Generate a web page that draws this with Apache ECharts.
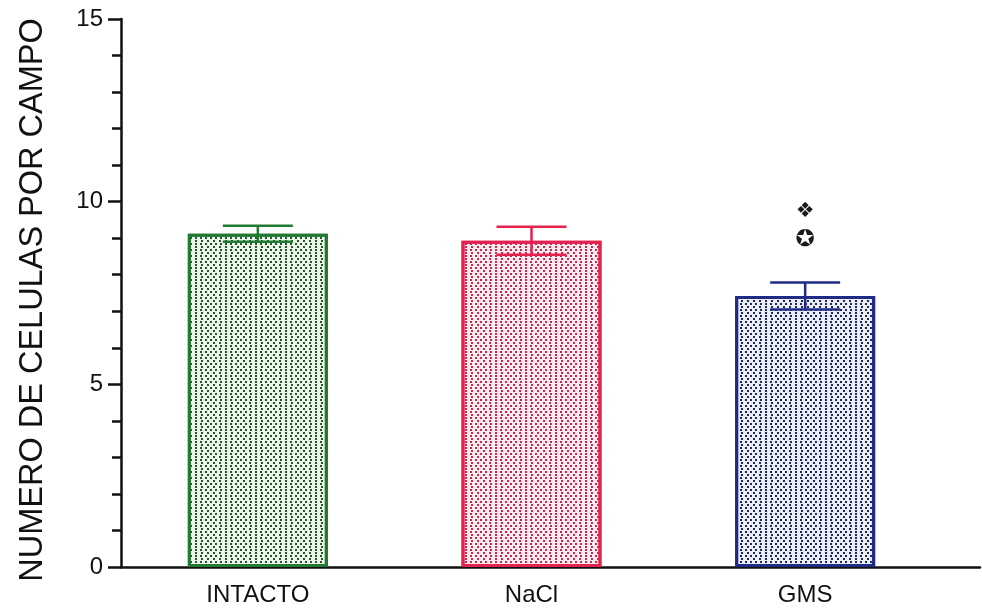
<!DOCTYPE html>
<html>
<head>
<meta charset="utf-8">
<script src="https://cdn.jsdelivr.net/npm/echarts@6/dist/echarts.min.js"></script>
<style>
html,body{margin:0;padding:0;background:#fff;}
#c{width:982px;height:612px;}
</style>
</head>
<body>
<div id="c"></div>
<script>
const categories = ['INTACTO', 'NaCl', 'GMS'];
const means = [9.12, 8.93, 7.42];
const sems = [0.22, 0.38, 0.37];
const yTickLabels = [0, 5, 10, 15];
const markerCategory = ['GMS', 'GMS'];
const markerValues = [9.72, 8.95];
const markerSymbols = ['❖', '✪'];
const yAxisTitle = 'NUMERO DE CELULAS POR CAMPO';

const borderColors = ['#217a30', '#e3224f', '#1f2b85'];
const fillColors = ['#eef5ec', '#fcecef', '#eceef6'];
const dotColors = ['#1f5a26', '#c8284f', '#1e2664'];

const FONT = "'Liberation Sans', Arial, sans-serif";

const chart = echarts.init(document.getElementById('c'));

const barData = means.map((v, i) => ({
  value: v,
  itemStyle: {
    color: fillColors[i],
    borderColor: borderColors[i],
    borderWidth: 3,
    decal: {
      symbol: 'rect',
      symbolSize: 1,
      color: dotColors[i],
      dashArrayX: [[1.6, 2.8], [0, 2.2, 1.6, 0.6]],
      dashArrayY: [1.6, 0.8],
      rotation: 0
    }
  }
}));

const errData = means.map((v, i) => [i, v, v + sems[i], v - sems[i]]);
const markerData = markerValues.map((v, i) => [categories.indexOf(markerCategory[i]), v, i]);

chart.setOption({
  animation: false,
  backgroundColor: '#ffffff',
  grid: [
    { left: 121, right: 40, top: 19, bottom: 45 },
    { left: 121, right: 2, top: 19, bottom: 45 }
  ],
  xAxis: [
    {
      type: 'category',
      gridIndex: 0,
      data: categories,
      axisLine: { show: false },
      axisTick: { show: false },
      axisLabel: { fontSize: 24, color: '#111', fontFamily: FONT, margin: 16 }
    },
    {
      type: 'value',
      gridIndex: 1,
      min: 0, max: 1,
      axisLine: { show: true, lineStyle: { color: '#111', width: 2.5 } },
      axisTick: { show: false },
      axisLabel: { show: false },
      splitLine: { show: false }
    }
  ],
  yAxis: [
    {
      type: 'value',
      gridIndex: 0,
      min: yTickLabels[0],
      max: yTickLabels[yTickLabels.length - 1],
      interval: 5,
      name: yAxisTitle,
      nameLocation: 'middle',
      nameRotate: 90,
      nameGap: 71,
      nameTextStyle: { fontSize: 32.5, color: '#111', fontFamily: FONT, padding: [0, 14, 0, 0] },
      axisLine: { show: true, lineStyle: { color: '#111', width: 2.5 } },
      axisTick: { show: true, length: 13, lineStyle: { color: '#111', width: 2.5 } },
      minorTick: { show: true, splitNumber: 5, length: 9, lineStyle: { color: '#111', width: 2.5 } },
      axisLabel: { fontSize: 24, color: '#111', fontFamily: FONT, margin: 18 },
      splitLine: { show: false }
    },
    {
      type: 'value',
      gridIndex: 1,
      show: false
    }
  ],
  series: [
    {
      type: 'bar',
      xAxisIndex: 0, yAxisIndex: 0,
      barWidth: 140,
      data: barData,
      z: 2
    },
    {
      type: 'custom',
      xAxisIndex: 0, yAxisIndex: 0,
      data: errData,
      encode: { x: 0, y: 1 },
      z: 5,
      renderItem: function (params, api) {
        const i = api.value(0);
        const top = api.coord([i, api.value(2)]);
        const bot = api.coord([i, api.value(3)]);
        const x = top[0];
        const half = 35;
        const st = { stroke: borderColors[i], lineWidth: 2.5 };
        return {
          type: 'group',
          children: [
            { type: 'line', shape: { x1: x, y1: top[1], x2: x, y2: bot[1] }, style: st },
            { type: 'line', shape: { x1: x - half, y1: top[1], x2: x + half, y2: top[1] }, style: st },
            { type: 'line', shape: { x1: x - half, y1: bot[1], x2: x + half, y2: bot[1] }, style: st }
          ]
        };
      }
    },
    {
      type: 'custom',
      xAxisIndex: 0, yAxisIndex: 0,
      data: markerData,
      encode: { x: 0, y: 1 },
      z: 6,
      renderItem: function (params, api) {
        const p = api.coord([api.value(0), api.value(1)]);
        const k = api.value(2);
        return {
          type: 'text',
          style: {
            text: markerSymbols[k],
            x: p[0], y: p[1],
            align: 'center',
            verticalAlign: 'middle',
            fontSize: k === 0 ? 21 : 23,
            fontFamily: "'DejaVu Sans', sans-serif",
            fill: '#1a1a1a'
          }
        };
      }
    }
  ]
});
</script>
</body>
</html>
